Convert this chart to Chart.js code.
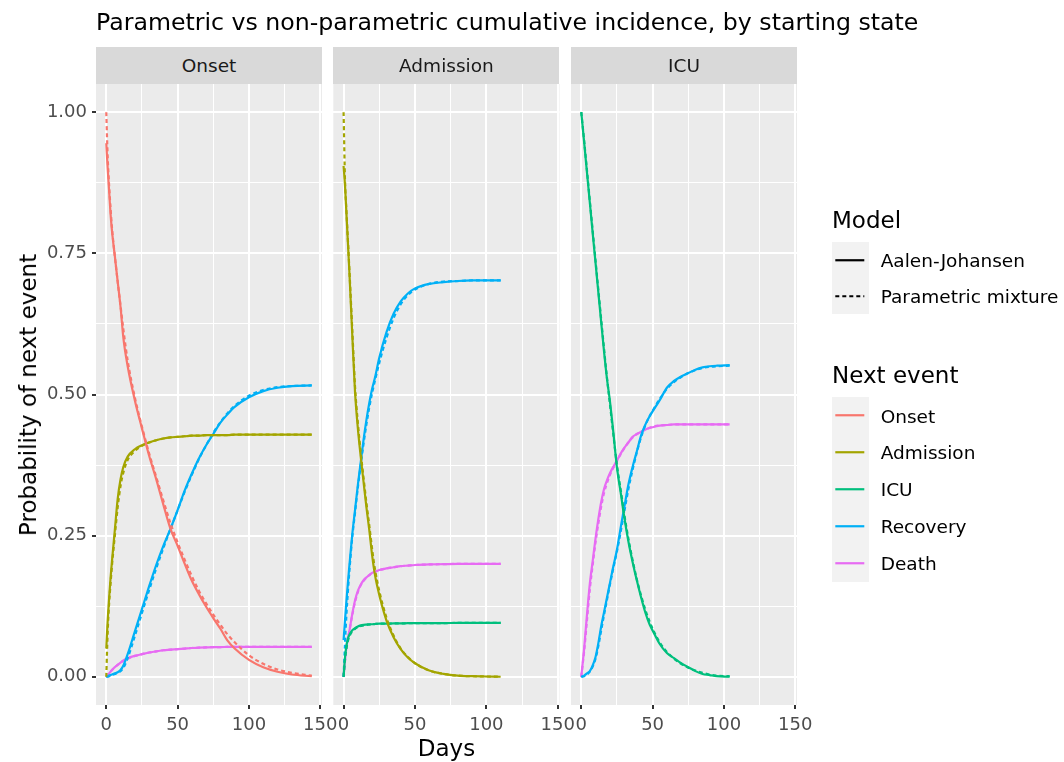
<!DOCTYPE html>
<html>
<head>
<meta charset="utf-8">
<script src="https://cdn.jsdelivr.net/npm/chart.js@4.4.0/dist/chart.umd.min.js"></script>
<style>
  html, body { margin: 0; padding: 0; background: #ffffff; }
  #fig { position: relative; width: 1064px; height: 762px; overflow: hidden; font-family: 'DejaVu Sans', sans-serif; }
  #fig canvas { position: absolute; left: 0; top: 0; }
  .plot-title { position: absolute; left: 96px; top: 8px; font-size: 23.65px; line-height: 28px; color: #000; white-space: nowrap; }
  .strip { position: absolute; top: 47px; height: 37px; background: #D9D9D9; color: #1A1A1A; font-size: 18.5px;
           display: flex; align-items: center; justify-content: center; }
  .axis-title { position: absolute; font-size: 23px; color: #000; white-space: nowrap; transform: translate(-50%, -50%); }
  .axis-title.y { transform: translate(-50%, -50%) rotate(-90deg); }
  .leg-title { position: absolute; left: 832px; font-size: 23px; line-height: 28px; color: #000; white-space: nowrap; transform: translateY(-50%); }
  .leg-keys { position: absolute; left: 831.7px; width: 37.3px; background: #F2F2F2; }
  .leg-row { position: absolute; left: 0; width: 240px; height: 36.5px; }
  .leg-row svg { position: absolute; left: 0; top: 0; }
  .leg-row span { position: absolute; left: 49px; top: 50%; transform: translateY(-50%); font-size: 18.5px; color: #000; white-space: nowrap; }
</style>
</head>
<body>
<div id="fig">
  <canvas id="panelOnset" width="1064" height="762"></canvas>
  <canvas id="panelAdmission" width="1064" height="762"></canvas>
  <canvas id="panelIcu" width="1064" height="762"></canvas>

  <div class="plot-title">Parametric vs non-parametric cumulative incidence, by starting state</div>

  <div class="strip" style="left:96px;width:226px;">Onset</div>
  <div class="strip" style="left:333.3px;width:226.2px;">Admission</div>
  <div class="strip" style="left:571px;width:226px;">ICU</div>

  <div class="axis-title" style="left:446.5px;top:748px;">Days</div>
  <div class="axis-title y" style="left:28px;top:394.5px;">Probability of next event</div>

  <div class="leg-title" style="top:220px;">Model</div>
  <div class="leg-keys" style="top:241.7px;height:72.6px;"></div>
  <div id="legModel"></div>

  <div class="leg-title" style="top:375px;">Next event</div>
  <div class="leg-keys" style="top:397.3px;height:184.4px;"></div>
  <div id="legEvent"></div>
</div>

<script>
// ---- data: cumulative incidence of the next event, by starting state ----

const eventNames  = ['Onset', 'Admission', 'ICU', 'Recovery', 'Death'];
const eventColors = ['#F8766D', '#A3A500', '#00BF7D', '#00B0F6', '#E76BF3'];
const modelNames  = ['Aalen-Johansen', 'Parametric mixture'];

const xGridValues = [0, 25, 50, 75, 100, 125, 150];
const xTickValues = [0, 50, 100, 150];
const xTickLabels = ['0', '50', '100', '150'];
const yGridValues = [0, 0.125, 0.25, 0.375, 0.5, 0.625, 0.75, 0.875, 1];
const yTickValues = [0, 0.25, 0.5, 0.75, 1];
const yTickLabels = ['0.00', '0.25', '0.50', '0.75', '1.00'];

// starting state: Onset
const daysOnset = [0, 1, 2, 3, 4, 6, 8, 10, 12, 15, 20, 25, 30, 35, 40, 45, 50, 55, 60, 65, 70, 75, 80, 85, 90, 100, 110, 120, 130, 144];
const onsetOnsetAJ = [0.945, 0.90, 0.86, 0.82, 0.79, 0.745, 0.70, 0.655, 0.60, 0.55, 0.49, 0.44, 0.392, 0.35, 0.305, 0.262, 0.232, 0.20, 0.17, 0.146, 0.124, 0.104, 0.085, 0.064, 0.05, 0.03, 0.017, 0.009, 0.004, 0.001];
const onsetOnsetPM = [1.0, 0.92, 0.87, 0.83, 0.795, 0.745, 0.70, 0.657, 0.615, 0.56, 0.495, 0.443, 0.396, 0.354, 0.312, 0.272, 0.238, 0.207, 0.178, 0.152, 0.13, 0.11, 0.092, 0.075, 0.061, 0.038, 0.023, 0.013, 0.007, 0.002];
const onsetAdmissionAJ = [0.05, 0.10, 0.14, 0.175, 0.205, 0.26, 0.315, 0.35, 0.372, 0.39, 0.403, 0.41, 0.415, 0.419, 0.422, 0.424, 0.425, 0.426, 0.427, 0.427, 0.428, 0.428, 0.428, 0.428, 0.429, 0.429, 0.429, 0.429, 0.429, 0.429];
const onsetAdmissionPM = [0.0, 0.08, 0.13, 0.165, 0.197, 0.25, 0.30, 0.338, 0.362, 0.384, 0.40, 0.409, 0.415, 0.419, 0.422, 0.424, 0.425, 0.426, 0.427, 0.427, 0.428, 0.428, 0.428, 0.428, 0.429, 0.429, 0.429, 0.429, 0.429, 0.429];
const onsetRecoveryAJ = [0, 0.001, 0.002, 0.003, 0.004, 0.006, 0.008, 0.012, 0.02, 0.04, 0.08, 0.12, 0.16, 0.198, 0.232, 0.262, 0.295, 0.33, 0.36, 0.387, 0.41, 0.43, 0.45, 0.465, 0.478, 0.495, 0.506, 0.512, 0.515, 0.516];
const onsetRecoveryPM = [0, 0.0, 0.001, 0.002, 0.003, 0.005, 0.007, 0.01, 0.016, 0.033, 0.072, 0.113, 0.153, 0.192, 0.228, 0.262, 0.295, 0.328, 0.358, 0.386, 0.41, 0.432, 0.451, 0.467, 0.48, 0.498, 0.508, 0.513, 0.515, 0.516];
const onsetDeathAJ = [0, 0.003, 0.006, 0.009, 0.012, 0.017, 0.021, 0.025, 0.029, 0.033, 0.037, 0.04, 0.043, 0.045, 0.047, 0.048, 0.049, 0.05, 0.051, 0.0515, 0.052, 0.0525, 0.0525, 0.053, 0.053, 0.053, 0.053, 0.053, 0.053, 0.053];
const onsetDeathPM = [0, 0.003, 0.006, 0.009, 0.012, 0.017, 0.021, 0.025, 0.028, 0.032, 0.037, 0.04, 0.043, 0.045, 0.047, 0.048, 0.049, 0.05, 0.051, 0.0515, 0.052, 0.0525, 0.0525, 0.053, 0.053, 0.053, 0.053, 0.053, 0.053, 0.053];

// starting state: Admission
const daysAdmission = [0, 1, 2, 3, 4, 6, 8, 10, 12, 14, 16, 18, 20, 22, 25, 30, 35, 40, 45, 50, 60, 70, 80, 90, 100, 110];
const admissionAdmissionAJ = [0.905, 0.87, 0.82, 0.77, 0.72, 0.61, 0.505, 0.44, 0.39, 0.345, 0.30, 0.26, 0.215, 0.18, 0.145, 0.10, 0.07, 0.049, 0.034, 0.024, 0.011, 0.005, 0.002, 0.001, 0.0005, 0];
const admissionAdmissionPM = [1.0, 0.88, 0.825, 0.775, 0.725, 0.62, 0.515, 0.45, 0.398, 0.352, 0.308, 0.268, 0.226, 0.19, 0.152, 0.105, 0.073, 0.05, 0.035, 0.024, 0.011, 0.005, 0.002, 0.001, 0.0005, 0];
const admissionIcuAJ = [0, 0.035, 0.055, 0.067, 0.074, 0.082, 0.086, 0.089, 0.091, 0.092, 0.0925, 0.093, 0.093, 0.0935, 0.094, 0.094, 0.0945, 0.0945, 0.095, 0.095, 0.095, 0.095, 0.0955, 0.0955, 0.0955, 0.0955];
const admissionIcuPM = [0, 0.03, 0.05, 0.063, 0.071, 0.08, 0.085, 0.088, 0.09, 0.091, 0.092, 0.0925, 0.093, 0.0935, 0.094, 0.094, 0.0945, 0.0945, 0.095, 0.095, 0.095, 0.095, 0.0955, 0.0955, 0.0955, 0.0955];
const admissionRecoveryAJ = [0.065, 0.10, 0.135, 0.165, 0.195, 0.25, 0.295, 0.34, 0.38, 0.42, 0.455, 0.485, 0.51, 0.53, 0.565, 0.61, 0.643, 0.665, 0.679, 0.688, 0.696, 0.699, 0.701, 0.702, 0.702, 0.702];
const admissionRecoveryPM = [0, 0.06, 0.11, 0.15, 0.185, 0.245, 0.29, 0.335, 0.375, 0.413, 0.447, 0.477, 0.503, 0.525, 0.556, 0.60, 0.635, 0.66, 0.676, 0.686, 0.696, 0.70, 0.701, 0.702, 0.702, 0.702];
const admissionDeathAJ = [0, 0.03, 0.052, 0.068, 0.08, 0.11, 0.135, 0.152, 0.163, 0.171, 0.176, 0.18, 0.184, 0.186, 0.189, 0.192, 0.194, 0.196, 0.197, 0.198, 0.199, 0.1995, 0.2, 0.2, 0.2, 0.2];
const admissionDeathPM = [0, 0.028, 0.05, 0.066, 0.08, 0.108, 0.132, 0.15, 0.162, 0.17, 0.176, 0.18, 0.184, 0.186, 0.189, 0.192, 0.194, 0.196, 0.197, 0.198, 0.199, 0.1995, 0.2, 0.2, 0.2, 0.2];

// starting state: ICU
const daysIcu = [0, 2, 4, 6, 8, 10, 12, 14, 16, 18, 20, 22, 25, 28, 30, 33, 36, 39, 42, 45, 48, 50, 55, 60, 65, 70, 75, 80, 85, 90, 95, 104];
const icuIcuAJ = [1.0, 0.947, 0.893, 0.84, 0.786, 0.733, 0.68, 0.627, 0.575, 0.528, 0.49, 0.445, 0.371, 0.32, 0.285, 0.24, 0.203, 0.17, 0.14, 0.113, 0.092, 0.082, 0.058, 0.042, 0.033, 0.024, 0.017, 0.01, 0.005, 0.003, 0.001, 0];
const icuIcuPM = [1.0, 0.95, 0.897, 0.843, 0.79, 0.737, 0.684, 0.632, 0.58, 0.53, 0.485, 0.44, 0.375, 0.325, 0.29, 0.245, 0.206, 0.172, 0.143, 0.118, 0.097, 0.085, 0.061, 0.044, 0.032, 0.023, 0.016, 0.011, 0.007, 0.004, 0.002, 0.001];
const icuRecoveryAJ = [0, 0.002, 0.006, 0.01, 0.02, 0.035, 0.06, 0.09, 0.115, 0.14, 0.165, 0.19, 0.225, 0.27, 0.298, 0.34, 0.372, 0.40, 0.428, 0.447, 0.462, 0.47, 0.49, 0.512, 0.524, 0.532, 0.538, 0.544, 0.548, 0.55, 0.551, 0.552];
const icuRecoveryPM = [0, 0.001, 0.004, 0.009, 0.018, 0.032, 0.055, 0.083, 0.11, 0.136, 0.162, 0.187, 0.222, 0.262, 0.29, 0.332, 0.367, 0.398, 0.425, 0.446, 0.462, 0.471, 0.492, 0.51, 0.522, 0.531, 0.538, 0.543, 0.547, 0.549, 0.55, 0.551];
const icuDeathAJ = [0, 0.05, 0.11, 0.165, 0.205, 0.245, 0.28, 0.31, 0.333, 0.348, 0.36, 0.37, 0.383, 0.397, 0.405, 0.415, 0.425, 0.43, 0.434, 0.438, 0.441, 0.442, 0.445, 0.446, 0.447, 0.447, 0.447, 0.447, 0.447, 0.447, 0.447, 0.447];
const icuDeathPM = [0, 0.045, 0.10, 0.155, 0.198, 0.238, 0.272, 0.302, 0.326, 0.343, 0.357, 0.368, 0.382, 0.396, 0.404, 0.415, 0.424, 0.43, 0.434, 0.438, 0.441, 0.443, 0.445, 0.446, 0.447, 0.447, 0.447, 0.447, 0.447, 0.447, 0.447, 0.447];

// ---- layout ----
const FIG_W = 1064, FIG_H = 762;
const X_MIN = -7.2, X_MAX = 151.2;   // shared x range across facets (data 0-144, 5% expansion)
const Y_MIN = -0.05, Y_MAX = 1.05;
const Y_AXIS_W = 96, X_AXIS_H = 30;
const FONT = 'DejaVu Sans';

const panelBackground = {
  id: 'panelBackground',
  beforeDraw(chart) {
    const { ctx, chartArea: a } = chart;
    ctx.save();
    ctx.fillStyle = '#EBEBEB';
    ctx.fillRect(a.left, a.top, a.right - a.left, a.bottom - a.top);
    ctx.restore();
  }
};

function lineSet(name, color, days, values, dashed) {
  return {
    label: name,
    data: days.map((d, i) => ({ x: d, y: values[i] })),
    borderColor: color,
    backgroundColor: color,
    borderWidth: 2.2,
    borderDash: dashed ? [4, 3] : [],
    pointRadius: 0,
    fill: false,
    cubicInterpolationMode: 'monotone'
  };
}

function buildPanel(canvasId, days, series, area, showY) {
  const datasets = [];
  series.forEach(s => {
    const color = eventColors[eventNames.indexOf(s.event)];
    datasets.push(lineSet(s.event + ' - ' + modelNames[0], color, days, s.aj, false));
    datasets.push(lineSet(s.event + ' - ' + modelNames[1], color, days, s.pm, true));
  });

  const isMajorX = v => xTickValues.includes(v);
  const isMajorY = v => yTickValues.includes(v);

  new Chart(document.getElementById(canvasId), {
    type: 'line',
    data: { datasets },
    options: {
      responsive: false,
      animation: false,
      devicePixelRatio: 1,
      layout: {
        padding: {
          left: area.left - (showY ? Y_AXIS_W : 0),
          right: FIG_W - area.right,
          top: area.top,
          bottom: FIG_H - area.bottom - X_AXIS_H
        }
      },
      plugins: { legend: { display: false }, tooltip: { enabled: false } },
      scales: {
        x: {
          type: 'linear',
          min: X_MIN, max: X_MAX,
          afterBuildTicks: ax => { ax.ticks = xGridValues.map(v => ({ value: v })); },
          afterFit: ax => { ax.height = X_AXIS_H; },
          border: { display: false },
          grid: {
            color: '#FFFFFF',
            lineWidth: c => (c.tick && isMajorX(c.tick.value)) ? 2 : 1,
            tickColor: c => (c.tick && isMajorX(c.tick.value)) ? '#333333' : 'rgba(0,0,0,0)',
            tickLength: 4
          },
          ticks: {
            autoSkip: false, maxRotation: 0, minRotation: 0, padding: 6,
            color: '#4D4D4D', font: { family: FONT, size: 18 },
            callback: v => { const i = xTickValues.indexOf(v); return i >= 0 ? xTickLabels[i] : ''; }
          }
        },
        y: {
          type: 'linear',
          min: Y_MIN, max: Y_MAX,
          afterBuildTicks: ax => { ax.ticks = yGridValues.map(v => ({ value: v })); },
          afterFit: ax => { ax.width = showY ? Y_AXIS_W : 0; },
          border: { display: false },
          grid: {
            color: '#FFFFFF',
            lineWidth: c => (c.tick && isMajorY(c.tick.value)) ? 2 : 1,
            tickColor: c => (c.tick && isMajorY(c.tick.value)) ? '#333333' : 'rgba(0,0,0,0)',
            tickLength: 4,
            drawTicks: showY
          },
          ticks: {
            display: showY, autoSkip: false, padding: 5,
            color: '#4D4D4D', font: { family: FONT, size: 18 },
            callback: v => { const i = yTickValues.indexOf(v); return i >= 0 ? yTickLabels[i] : ''; }
          }
        }
      }
    },
    plugins: [panelBackground]
  });
}

buildPanel('panelOnset', daysOnset, [
  { event: 'Onset',     aj: onsetOnsetAJ,     pm: onsetOnsetPM },
  { event: 'Admission', aj: onsetAdmissionAJ, pm: onsetAdmissionPM },
  { event: 'Recovery',  aj: onsetRecoveryAJ,  pm: onsetRecoveryPM },
  { event: 'Death',     aj: onsetDeathAJ,     pm: onsetDeathPM }
], { left: 96, right: 322, top: 84, bottom: 705 }, true);

buildPanel('panelAdmission', daysAdmission, [
  { event: 'Admission', aj: admissionAdmissionAJ, pm: admissionAdmissionPM },
  { event: 'ICU',       aj: admissionIcuAJ,       pm: admissionIcuPM },
  { event: 'Recovery',  aj: admissionRecoveryAJ,  pm: admissionRecoveryPM },
  { event: 'Death',     aj: admissionDeathAJ,     pm: admissionDeathPM }
], { left: 333.3, right: 559.5, top: 84, bottom: 705 }, false);

buildPanel('panelIcu', daysIcu, [
  { event: 'ICU',      aj: icuIcuAJ,      pm: icuIcuPM },
  { event: 'Recovery', aj: icuRecoveryAJ, pm: icuRecoveryPM },
  { event: 'Death',    aj: icuDeathAJ,    pm: icuDeathPM }
], { left: 571, right: 797, top: 84, bottom: 705 }, false);

// ---- legends ----
function legendRow(parent, top, label, color, dashed) {
  const row = document.createElement('div');
  row.className = 'leg-row';
  row.style.left = '831.7px';
  row.style.top = top + 'px';
  row.innerHTML =
    '<svg width="37" height="36.5"><line x1="3.3" x2="32.3" y1="18.25" y2="18.25" stroke="' + color +
    '" stroke-width="2.2"' + (dashed ? ' stroke-dasharray="4 3"' : '') + '/></svg><span></span>';
  row.querySelector('span').textContent = label;
  parent.appendChild(row);
}

const legModel = document.getElementById('legModel');
modelNames.forEach((m, i) => legendRow(legModel, 241.7 + i * 36.3, m, '#000000', i === 1));

const legEvent = document.getElementById('legEvent');
eventNames.forEach((e, i) => legendRow(legEvent, 397.3 + i * 36.88, e, eventColors[i], false));
</script>
</body>
</html>
